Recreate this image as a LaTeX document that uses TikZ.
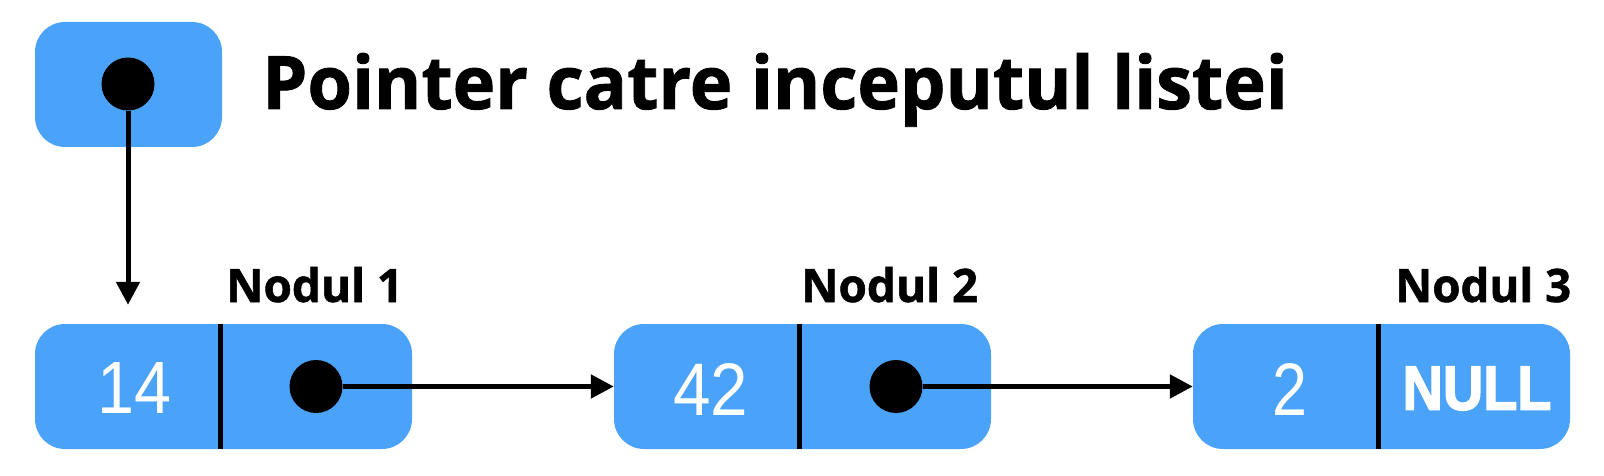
\documentclass[tikz,border=0pt]{standalone}
\usepackage{fontspec}
\setmainfont{Liberation Sans}
\newfontfamily\titlefont{Open Sans}[BoldFeatures={FakeBold=1.2}]
\newfontfamily\boldsansfnt{Liberation Sans}[BoldFeatures={FakeBold=2.5}]
\usetikzlibrary{arrows.meta}
\definecolor{boxblue}{HTML}{4AA3F8}
\begin{document}
\begin{tikzpicture}[x=1pt,y=-1pt,
  box/.style={fill=boxblue, draw=none, rounded corners=30pt, inner sep=0pt},
  dot/.style={circle, fill=black, draw=none, minimum size=53pt, inner sep=0pt},
  divider/.style={line width=5pt, black},
  arr/.style={line width=5pt, black, -{Triangle[length=23pt,width=23pt]}},
  num/.style={inner sep=0pt, text=white, font=\fontsize{60}{60}\selectfont},
  lab/.style={inner sep=0pt, anchor=base west, font=\titlefont\bfseries}
]
\useasboundingbox (0,0) rectangle (1604,476);

% pointer box
\node[box, minimum width=187pt, minimum height=125pt] (p0) at (128.5,84.5) {};
\node[dot] (d0) at (128,84) {};

% list nodes
\node[box, minimum width=377pt, minimum height=125pt] (n1) at (223.5,386.5) {};
\node[box, minimum width=377pt, minimum height=125pt] (n2) at (802.5,386.5) {};
\node[box, minimum width=377pt, minimum height=125pt] (n3) at (1381.5,386.5) {};

\draw[divider] ([xshift=186pt]n1.north west) -- ([xshift=186pt]n1.south west);
\draw[divider] ([xshift=186pt]n2.north west) -- ([xshift=186pt]n2.south west);
\draw[divider] ([xshift=186pt]n3.north west) -- ([xshift=186pt]n3.south west);

\node[dot] (d1) at (316,386.5) {};
\node[dot] (d2) at (896,386.5) {};

% values
\node[num] (v1) at (135,387.5) {\resizebox{74pt}{51pt}{14}};
\node[num] (v2) at (711,389) {\resizebox{75pt}{52pt}{42}};
\node[num] (v3) at (1289.5,389) {\resizebox{35pt}{52pt}{2}};
\node[num] (null) at (1477,388.5) {\resizebox{149pt}{43pt}{\boldsansfnt\bfseries NULL}};

% labels
\node[lab] (title) at (262,109) {\resizebox{1025pt}{56pt}{Pointer catre inceputul listei}};
\node[lab] (l1) at (226,302) {\resizebox{177pt}{35pt}{Nodul 1}};
\node[lab] (l2) at (801,302) {\resizebox{177pt}{35pt}{Nodul 2}};
\node[lab] (l3) at (1395,302) {\resizebox{176pt}{35pt}{Nodul 3}};

% connectors
\coordinate (t1) at ([yshift=19pt]n1.north -| d0);
\draw[arr] (d0.south) -- (t1);
\draw[arr] (d1.east) -- (d1 -| n2.west);
\draw[arr] (d2.east) -- (d2 -| n3.west);
\end{tikzpicture}
\end{document}
